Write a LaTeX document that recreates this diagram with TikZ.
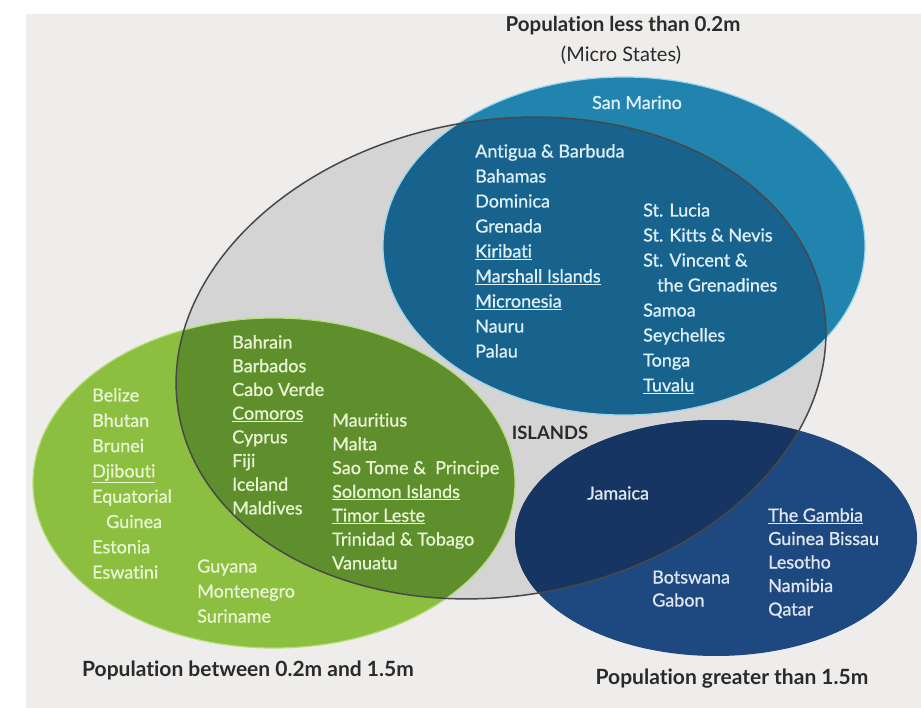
\documentclass[tikz,border=0pt]{standalone}
\usepackage{fontspec}
\setmainfont{Lato}[Ligatures=NoCommon]
\newfontfamily\ctryfont{Lato}[FakeBold=1.0,Ligatures=NoCommon]
\definecolor{bg}{HTML}{EEEDEB}
\definecolor{isl}{HTML}{D4D4D5}
\definecolor{islline}{HTML}{484848}
\definecolor{blueA}{HTML}{2184AF}
\definecolor{blueB}{HTML}{17638E}
\definecolor{blueRim}{HTML}{9AD6EC}
\definecolor{greenA}{HTML}{8CBF3F}
\definecolor{greenB}{HTML}{5E8F2C}
\definecolor{greenRim}{HTML}{B5DD78}
\definecolor{navyA}{HTML}{1E4880}
\definecolor{navyB}{HTML}{163562}
\definecolor{txtG}{HTML}{E8F4D4}
\definecolor{txtB}{HTML}{DDEFF7}
\definecolor{txtN}{HTML}{E1E7F0}
\definecolor{ttl}{HTML}{2A2A2A}
\tikzset{
  ctry/.style={inner sep=0pt, anchor=base west, font=\ctryfont\fontsize{18}{21}\selectfont},
  onG/.style={ctry, text=txtG},
  onB/.style={ctry, text=txtB},
  onN/.style={ctry, text=txtN},
  ttlbox/.style={inner sep=0pt, text=ttl, font=\bfseries\fontsize{21}{24}\selectfont},
}
\begin{document}
\begin{tikzpicture}[x=1pt,y=-1pt]
\useasboundingbox (0,0) rectangle (921,708);
\fill[white] (0,0) rectangle (921,708);
\fill[bg] (26,14) rectangle (921,708);
% islands ellipse
\fill[isl, rotate around={9.5:(501,358)}] (501,358) ellipse [x radius=327, y radius=238];
% coloured ellipses
\fill[blueA] (624,246) ellipse [x radius=241, y radius=169];
\fill[greenA] (274,483) ellipse [x radius=241, y radius=165];
\fill[navyA] (716,538) ellipse [x radius=201, y radius=118];
\begin{scope}
  \clip[rotate around={9.5:(501,358)}] (501,358) ellipse [x radius=327, y radius=238];
  \fill[blueB] (624,246) ellipse [x radius=241, y radius=169];
  \fill[greenB] (274,483) ellipse [x radius=241, y radius=165];
  \fill[navyB] (716,538) ellipse [x radius=201, y radius=118];
\end{scope}
\draw[blueRim, line width=1.2pt] (624,246) ellipse [x radius=241, y radius=169];
\draw[greenRim, line width=1.2pt] (274,483) ellipse [x radius=241, y radius=165];
\draw[islline, line width=1.5pt, rotate around={9.5:(501,358)}] (501,358) ellipse [x radius=327, y radius=238];

% titles
\node[ttlbox, font=\bfseries\fontsize{20.5}{24}\selectfont] (t1) at (623,26) {Population less than 0.2m};
\node[ttlbox, font=\fontsize{20}{24}\selectfont] (t1b) at (621,55) {(Micro States)};
\node[ttlbox] (t2) at (248,670) {Population between 0.2m and 1.5m};
\node[ttlbox] (t3) at (732,679) {Population greater than 1.5m};
\node[inner sep=0pt, text=ttl, font=\bfseries\fontsize{18.4}{21}\selectfont] (islands) at (550,433) {ISLANDS};

% micro states
\node[onB, anchor=base] (sanmarino) at (637,109) {San Marino};
\foreach \t [count=\i] in {Antigua \& Barbuda, Bahamas, Dominica, Grenada, \underline{Kiribati}, \underline{Marshall Islands}, \underline{Micronesia}, Nauru, Palau}
  \node[onB] (bl-\i) at (475,{157.5+(\i-1)*25}) {\t};
\foreach \t/\xx [count=\i] in {St. Lucia/643, St. Kitts \& Nevis/643, St. Vincent \&/643, the Grenadines/657, Samoa/643, Seychelles/643, Tonga/643, \underline{Tuvalu}/643}
  \node[onB] (br-\i) at (\xx,{216.5+(\i-1)*25}) {\t};

% middle population
\foreach \t/\xx [count=\i] in {Belize/92, Bhutan/92, Brunei/92, \underline{Djibouti}/92, Equatorial/92, Guinea/106, Estonia/92, Eswatini/92}
  \node[onG] (gl-\i) at (\xx,{401.5+(\i-1)*25.3}) {\t};
\foreach \t [count=\i] in {Bahrain, Barbados, Cabo Verde, \underline{Comoros}, Cyprus, Fiji, Iceland, Maldives}
  \node[onG] (gm-\i) at (232,{348.5+(\i-1)*23.7}) {\t};
\foreach \t [count=\i] in {Mauritius, Malta, Sao Tome \&\ \ Principe, \underline{Solomon Islands}, \underline{Timor Leste}, Trinidad \& Tobago, Vanuatu}
  \node[onG] (gr-\i) at (332,{426.5+(\i-1)*23.8}) {\t};
\foreach \t [count=\i] in {Guyana, Montenegro, Suriname}
  \node[onG] (gb-\i) at (197,{572.5+(\i-1)*25}) {\t};

% large population
\node[onN] (jamaica) at (587,499.5) {Jamaica};
\node[onN] (botswana) at (652,583.5) {Botswana};
\node[onN] (gabon) at (652,606.5) {Gabon};
\foreach \t [count=\i] in {\underline{The Gambia}, Guinea Bissau, Lesotho, Namibia, Qatar}
  \node[onN] (nr-\i) at (768,{521.5+(\i-1)*23.5}) {\t};
\end{tikzpicture}
\end{document}
